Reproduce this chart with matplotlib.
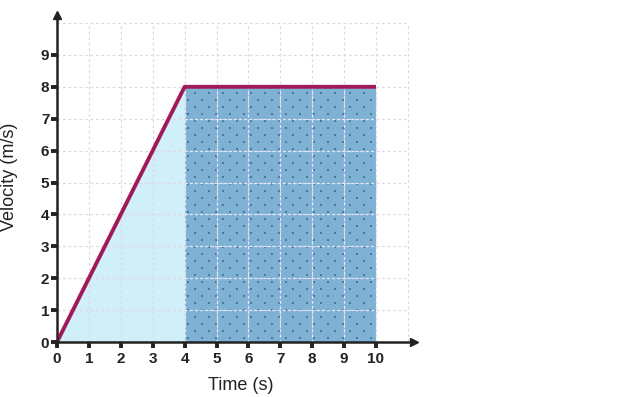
import matplotlib
matplotlib.use("Agg")
import matplotlib.pyplot as plt
import numpy as np

plt.rcParams['font.family'] = ['Liberation Sans', 'DejaVu Sans']

time = [0, 4, 10]
velocity = [0, 8, 8]
xticks = list(range(0, 11))
yticks = list(range(0, 10))

W, H = 624, 397
fig = plt.figure(figsize=(W/100, H/100), dpi=100)
ox, oy = 57, 342
ppu = 31.9
xmax, ymax = 11.2, 10.25
ax = fig.add_axes([ox/W, (H-oy)/H, xmax*ppu/W, ymax*ppu/H])
ax.set_xlim(0, xmax)
ax.set_ylim(0, ymax)

# light blue triangle
ax.fill_between(time[:2], 0, velocity[:2], color='#d0eff8', lw=0, zorder=1)
# dark rectangle
ax.fill_between(time[1:], 0, velocity[1:], facecolor='#7fb1d5', lw=0, zorder=1)

# stipple texture inside rectangle
dx, dy = 0.44, 0.22
pts = []
for i, yy in enumerate(np.arange(dy / 2, velocity[1], dy)):
    off = dx / 4 if i % 2 == 0 else dx * 3 / 4
    for xx in np.arange(time[1] + off, time[2], dx):
        pts.append((xx, yy))
pts = np.array(pts)
ax.scatter(pts[:, 0], pts[:, 1], s=1.2, marker='s', color='#3f6a90', lw=0, alpha=0.8, zorder=1.5)

# grid
dash = (0, (2.2, 2.2))
for x in xticks[1:] + [11]:
    ax.plot([x, x], [0, 10], ls=dash, color='#dcd8e8', lw=0.9, zorder=2)
for y in yticks[1:] + [10]:
    ax.plot([0, 11], [y, y], ls=dash, color='#dcd8e8', lw=0.9, zorder=2)
# lighter grid over the dark rectangle
for x in xticks[4:]:
    ax.plot([x, x], [0, 8], ls=dash, color='#e2eaf5', lw=0.8, zorder=2.5)
for y in yticks[1:8]:
    ax.plot([4, 10], [y, y], ls=dash, color='#e2eaf5', lw=0.8, zorder=2.5)

ax.plot(time, velocity, color='#a01a58', lw=2.8, zorder=4, solid_capstyle='butt')

for s in ['top', 'right']:
    ax.spines[s].set_visible(False)
for s in ['left', 'bottom']:
    ax.spines[s].set_linewidth(1.8)
    ax.spines[s].set_color('#222222')
    ax.spines[s].set_zorder(5)

ax.plot(xmax, 0, marker='>', color='#222222', ms=6, clip_on=False, zorder=6)
ax.plot(0, ymax, marker='^', color='#222222', ms=6, clip_on=False, zorder=6)

ax.set_xticks(xticks)
ax.set_yticks(yticks)
ax.tick_params(axis='both', direction='out', length=4, width=2.8, color='#222222',
               labelsize=11)
ax.tick_params(axis='x', pad=3)
ax.tick_params(axis='y', pad=1.5)
for lab in ax.get_xticklabels() + ax.get_yticklabels():
    lab.set_fontweight('bold')
    lab.set_color('#222222')

fig.text(241/W, 1 - 385/H, 'Time (s)', fontsize=13, color='#222222', ha='center', va='center')
fig.text(9.5/W, 1 - 177/H, 'Velocity (m/s)', fontsize=13, color='#222222', ha='center',
         va='center', rotation=90)
ax.patch.set_alpha(0)

fig.savefig('out.png', dpi=100)
